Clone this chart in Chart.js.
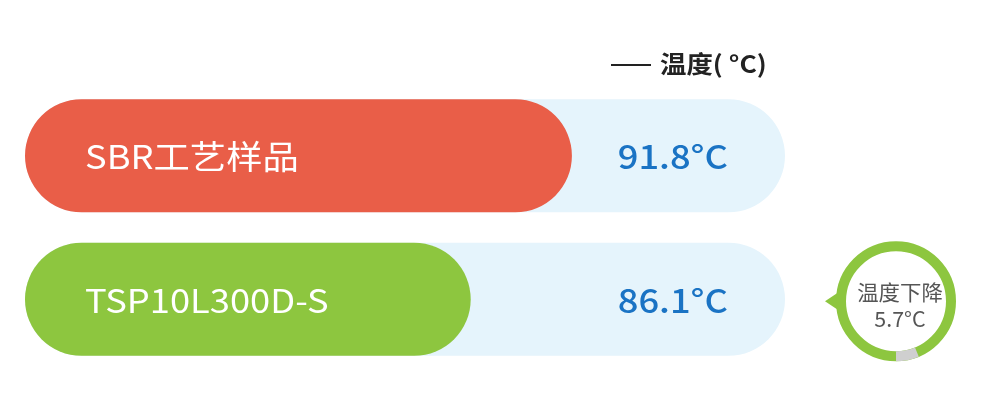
<!DOCTYPE html>
<html>
<head>
<meta charset="utf-8">
<script src="https://cdn.jsdelivr.net/npm/chart.js@4/dist/chart.umd.min.js"></script>
<style>
html,body{margin:0;padding:0;background:#fff;}
#wrap{width:994px;height:419px;position:relative;}
</style>
</head>
<body>
<div id="wrap"><canvas id="c"></canvas></div>
<script>
const categories = ['SBR工艺样品', 'TSP10L300D-S'];
const temperatures = [91.8, 86.1];
const trackValues = [103.8, 103.8];
const axisRange = [61, 103.8];
const barColors = ['#E95E48', '#8DC63F'];
const seriesName = '温度( °C)';
const unit = '°C';

const FONT = '"Noto Sans CJK SC", "Noto Sans", sans-serif';

function stretchText(ctx, text, x, y, sx) {
  ctx.save();
  ctx.translate(x, y);
  ctx.scale(sx, 1);
  ctx.fillText(text, 0, 0);
  ctx.restore();
}

const overlay = {
  id: 'overlay',
  afterDatasetsDraw(chart) {
    const ctx = chart.ctx;
    const area = chart.chartArea;
    const meta = chart.getDatasetMeta(0);
    ctx.save();
    meta.data.forEach((bar, i) => {
      ctx.fillStyle = '#FFFFFF';
      ctx.font = '400 33px ' + FONT;
      ctx.textAlign = 'left';
      ctx.textBaseline = 'middle';
      stretchText(ctx, categories[i], bar.base + 60, bar.y + 1, 1.1);
      ctx.fillStyle = '#1A73C4';
      ctx.font = '500 33px ' + FONT;
      ctx.textAlign = 'right';
      stretchText(ctx, temperatures[i].toFixed(1) + unit, area.right - 57, bar.y + 1, 1.1);
    });

    // legend
    ctx.strokeStyle = '#222';
    ctx.lineWidth = 2;
    ctx.beginPath();
    ctx.moveTo(611, 65);
    ctx.lineTo(651, 65);
    ctx.stroke();
    ctx.fillStyle = '#222';
    ctx.font = 'bold 24px ' + FONT;
    ctx.textAlign = 'left';
    ctx.textBaseline = 'middle';
    stretchText(ctx, seriesName, 660, 64, 1.1);

    // badge
    const drop = temperatures[0] - temperatures[1];
    const y1 = meta.data[1].y;
    const cx = area.right + 111, cy = y1 + 2, r = 55;
    ctx.fillStyle = '#8DC63F';
    ctx.beginPath();
    ctx.moveTo(cx - r - 16, cy);
    ctx.lineTo(cx - r + 2, cy - 12);
    ctx.lineTo(cx - r + 2, cy + 12);
    ctx.closePath();
    ctx.fill();
    ctx.fillStyle = '#fff';
    ctx.beginPath();
    ctx.arc(cx, cy, r, 0, Math.PI * 2);
    ctx.fill();
    ctx.lineWidth = 10;
    ctx.strokeStyle = '#8DC63F';
    ctx.beginPath();
    ctx.arc(cx, cy, r, 0, Math.PI * 2);
    ctx.stroke();
    const frac = drop / temperatures[0] * Math.PI * 2;
    ctx.strokeStyle = '#CFCFCF';
    ctx.beginPath();
    ctx.arc(cx, cy, r, Math.PI / 2 - frac, Math.PI / 2);
    ctx.stroke();
    ctx.fillStyle = '#555';
    ctx.font = '400 21px ' + FONT;
    ctx.textAlign = 'center';
    stretchText(ctx, '温度下降', cx + 4, cy - 9, 1.02);
    stretchText(ctx, drop.toFixed(1) + unit, cx + 4, cy + 18, 1.02);
    ctx.restore();
  }
};

new Chart(document.getElementById('c'), {
  type: 'bar',
  data: {
    labels: categories,
    datasets: [
      {
        label: seriesName,
        data: temperatures.map(v => [axisRange[0], v]),
        backgroundColor: barColors,
        borderSkipped: false,
        borderRadius: 200,
        barPercentage: 0.787,
        categoryPercentage: 1,
        grouped: false,
        order: 0
      },
      {
        label: 'track',
        data: trackValues.map(v => [axisRange[0], v]),
        backgroundColor: '#E5F4FC',
        borderSkipped: false,
        borderRadius: 200,
        barPercentage: 0.787,
        categoryPercentage: 1,
        grouped: false,
        order: 1
      }
    ]
  },
  options: {
    indexAxis: 'y',
    responsive: true,
    maintainAspectRatio: false,
    animation: false,
    layout: { padding: { left: 25, right: 209, top: 84, bottom: 48 } },
    scales: {
      x: { display: false, min: axisRange[0], max: axisRange[1] },
      y: { display: false }
    },
    plugins: { legend: { display: false }, tooltip: { enabled: false } }
  },
  plugins: [overlay]
});
</script>
</body>
</html>
